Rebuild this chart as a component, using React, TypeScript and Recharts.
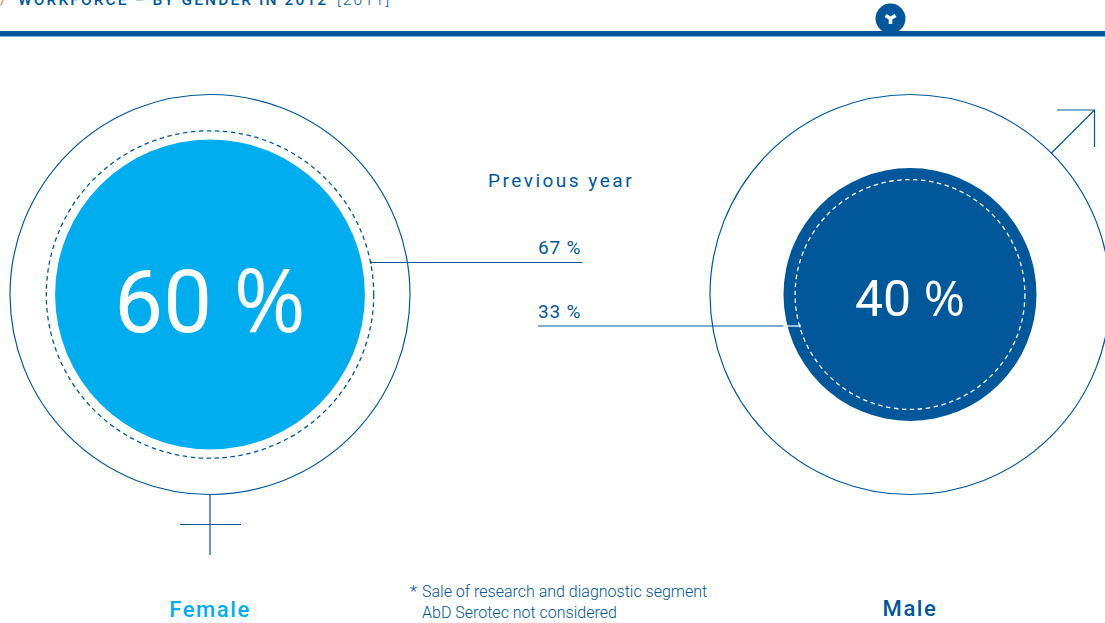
import React from 'react';
import { ScatterChart, Scatter, XAxis, YAxis, ZAxis, Cell, LabelList } from 'recharts';

// circle area is proportional to the share, the outer ring stands for 100 %
const genders = ['Female', 'Male'];
const currentShare = [60, 40];
const previousShare = [67, 33];
const fullShare = [100, 100];

const BLUE = '#00589b';
const SKY = '#00aeef';
const FONT = 'Roboto, sans-serif';

const toPoints = (values: number[]) => values.map((value, i) => ({ gender: genders[i], pos: i, row: 0, value }));

const currentPoints = toPoints(currentShare);
const previousPoints = toPoints(previousShare);
const fullPoints = toPoints(fullShare);

const GenderTick = ({ x, y, payload }: any) => (
    <text x={x} y={y + 20 - payload.value} textAnchor="middle" fontFamily={FONT} fontWeight={500} fontSize={22} letterSpacing={1.6} fill={payload.value === 0 ? SKY : BLUE}>
        {genders[payload.value]}
    </text>
);

const ShareLabel = ({ x, y, width, height, index }: any) => {
    const big = index === 0;
    return (
        <text x={x + width / 2} y={y + height / 2 + (big ? 37 : 21)} textAnchor="middle" fontFamily={FONT} fontSize={big ? 87 : 50} fill="#fff">
            {currentShare[index]} <tspan fontFamily="'Open Sans', sans-serif">%</tspan>
        </text>
    );
};

export default function App() {
    return (
        <div style={{ position: 'absolute', left: 0, top: 0, width: 1105, height: 623, overflow: 'hidden', background: '#fff' }}>
            <ScatterChart width={1105} height={623} margin={{ top: 0, right: 195, bottom: 0, left: 210 }}>
                <XAxis type="number" dataKey="pos" domain={[0, 1]} ticks={[0, 1]} height={34} axisLine={false} tickLine={false} tick={<GenderTick />} interval={0} />
                <YAxis type="number" dataKey="row" domain={[-1, 1]} hide />
                <ZAxis type="number" dataKey="value" domain={[0, 100]} range={[0, Math.PI * 40000]} />

                <Scatter data={fullPoints} fill="none" stroke={BLUE} strokeWidth={1.2} isAnimationActive={false} />
                <Scatter data={currentPoints} isAnimationActive={false}>
                    <Cell fill={SKY} />
                    <Cell fill={BLUE} />
                    <LabelList dataKey="value" content={<ShareLabel />} />
                </Scatter>
                <Scatter data={previousPoints} fill="none" strokeWidth={1.3} strokeDasharray="4.5 3.5" isAnimationActive={false}>
                    <Cell fill="none" stroke={BLUE} />
                    <Cell fill="none" stroke="#fff" />
                </Scatter>

                {/* header, cut off by the page edge */}
                <text y={5} fontFamily={FONT} fontSize={15.5} letterSpacing={2.1} fill={BLUE}>
                    <tspan x={0} fill="#b08a4a">/</tspan>
                    <tspan x={18} fontWeight={500}>WORKFORCE – BY GENDER IN 2012</tspan>
                    <tspan x={337} fontWeight={300}>[2011]</tspan>
                </text>
                <rect x={0} y={31} width={1105} height={5.5} fill={BLUE} />
                <circle cx={890.5} cy={18.5} r={15} fill={BLUE} />
                <path d="M885.5 15.5 L890.5 18.5 L895.5 15.5 M890.5 18 V24" stroke="#fff" strokeWidth={3.6} fill="none" />

                {/* gender symbols and leader lines */}
                <g stroke={BLUE} strokeWidth={1.2} fill="none">
                    <line x1={210} y1={494} x2={210} y2={555} />
                    <line x1={180} y1={524.5} x2={241} y2={524.5} />
                    <path d="M1057 110 H1094.5 V147 M1094.5 110 L1051 153.5" />
                    <line x1={371} y1={262.5} x2={582} y2={262.5} />
                    <line x1={371} y1={261} x2={371} y2={264} />
                    <line x1={538} y1={326} x2={784} y2={326} />
                </g>

                {/* previous year */}
                <g fontFamily={FONT} fill={BLUE}>
                    <text x={488} y={187} fontSize={19} letterSpacing={2.5}>Previous year</text>
                    <text x={538} y={254} fontSize={19} letterSpacing={0.8}>{previousShare[0]} %</text>
                    <text x={538} y={318} fontSize={19} letterSpacing={0.8}>{previousShare[1]} %</text>
                </g>

                {/* footnote */}
                <g fontFamily={FONT} fontSize={16} fontWeight={300} fill={BLUE}>
                    <text x={410} y={597}>*</text>
                    <text x={422} y={597}>Sale of research and diagnostic segment</text>
                    <text x={422} y={618}>AbD Serotec not considered</text>
                </g>
            </ScatterChart>

            {/* the scatter paints over chart children, so the white end of the leader sits on top */}
            <svg width={1105} height={623} style={{ position: 'absolute', left: 0, top: 0, pointerEvents: 'none' }}>
                <g stroke="#fff" strokeWidth={1.2}>
                    <line x1={783} y1={326} x2={800} y2={326} />
                    <line x1={800} y1={324.5} x2={800} y2={327.5} />
                </g>
            </svg>
        </div>
    );
}
